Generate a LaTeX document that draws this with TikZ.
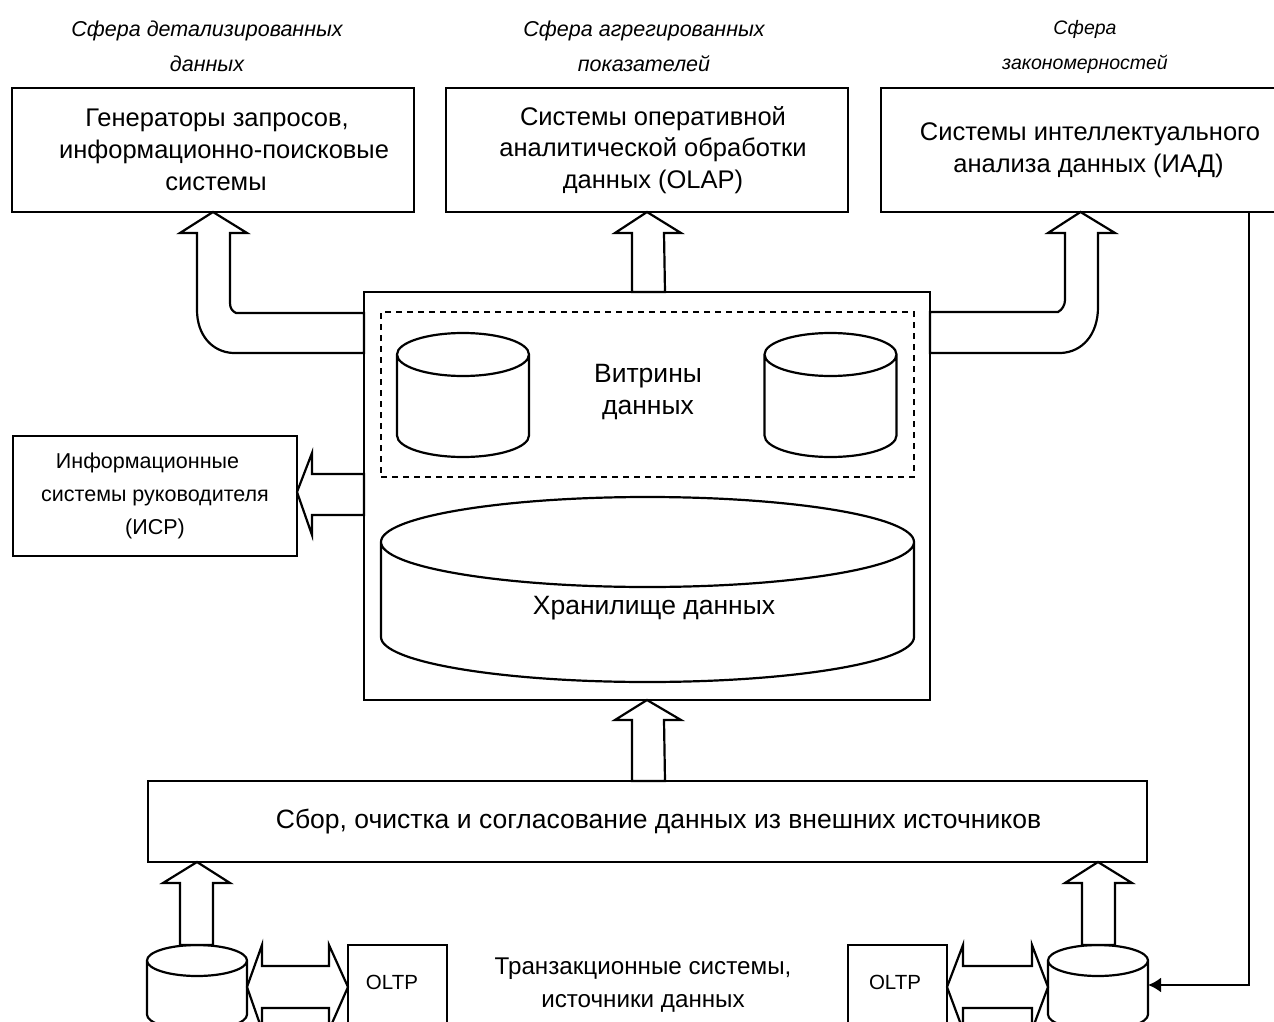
\documentclass[tikz,border=0pt]{standalone}
\usepackage{fontspec}
\setmainfont{Liberation Sans}
\usetikzlibrary{positioning,arrows.meta,calc}
\begin{document}
\begin{tikzpicture}[x=1pt, y=-1pt, line width=2.2pt, every node/.style={outer sep=0pt, inner sep=0pt, align=center},
  sysbox/.style={rectangle, draw, minimum height=124pt, minimum width=402pt, font=\fontsize{25.5pt}{31.8pt}\selectfont},
  sphere/.style={font=\fontsize{21.5pt}{35pt}\selectfont\itshape},
  labeltext/.style={font=\fontsize{26.5pt}{32pt}\selectfont},
  oltpbox/.style={rectangle, draw, minimum width=99pt, minimum height=100pt, anchor=north west},
  oltptext/.style={font=\fontsize{20.5pt}{26pt}\selectfont},
  cylslot/.style={rectangle},
  fat/.style={draw, fill=white, line join=miter}]
\useasboundingbox (0,0) rectangle (1274,1022);
\clip (0,0) rectangle (1274,1022);

% top row
\node[sysbox] (generators) at (213,150) {\hspace*{8pt}Генераторы запросов,\\\hspace*{22pt}информационно-поисковые\\\hspace*{6pt}системы};
\node[sysbox, right=32pt of generators] (olap) {\hspace*{12pt}Системы оперативной\\\hspace*{12pt}аналитической обработки\\\hspace*{12pt}данных (OLAP)};
\node[sysbox, minimum width=399pt, right=33pt of olap] (mining) {\hspace*{19pt}Системы интеллектуального\\\hspace*{16pt}анализа данных (ИАД)};
\node[sphere] (spheredet) at (207,46) {Сфера детализированных\\данных};
\node[sphere] (sphereagg) at (644,46) {Сфера агрегированных\\показателей};
\node[sphere, font=\fontsize{19.5pt}{35pt}\selectfont\itshape] (spherelaw) at (1085,47) {Сфера\\закономерностей};

% store
\node[rectangle, draw, minimum width=566pt, minimum height=408pt] (storebox) at (647,496) {};
\node[rectangle, draw, dash pattern=on 6pt off 5pt, minimum width=533pt, minimum height=165pt] (marts) at (647.5,394.5) {};
\node[cylslot, minimum width=132pt, minimum height=124pt] (martleft) at (463,395) {};
\node[cylslot, minimum width=132pt, minimum height=124pt] (martright) at (830.5,395) {};
\node[cylslot, minimum width=533pt, minimum height=185pt] (storage) at (647.5,589.5) {};

% left box
\node[rectangle, draw, minimum width=284pt, minimum height=120pt, font=\fontsize{21.5pt}{33pt}\selectfont] (isr) at (155,496) {Информационные\hspace*{15pt}\\системы руководителя\hspace*{8pt}\\(ИСР)};

% bottom part
\node[rectangle, draw, minimum width=999pt, minimum height=81pt, labeltext] (collect) at (647.5,821.5) {\hspace*{22pt}Сбор, очистка и согласование данных из внешних источников};
\node[oltpbox] (oltpleft) at (348,945) {};
\node[oltpbox] (oltpright) at (848,945) {};
\node[cylslot, minimum width=100pt, minimum height=85pt, anchor=north] (srcleft) at (197,945) {};
\node[cylslot, minimum width=100pt, minimum height=85pt, anchor=north] (srcright) at (1098,945) {};

\foreach \cylname/\ry in {martleft/21.5,martright/21.5,storage/45,srcleft/15.5,srcright/15.5}
  \draw[fill=white] let \p1=(\cylname.west), \p2=(\cylname.east), \n1={(\x2-\x1)/2} in
    ([yshift=-\ry pt]\cylname.north west) arc[start angle=180, end angle=0, x radius=\n1, y radius=\ry pt]
    --([yshift=\ry pt]\cylname.south east) arc[start angle=0, end angle=-180, x radius=\n1, y radius=\ry pt]--cycle
    ([yshift=-\ry pt]\cylname.north west) arc[start angle=180, end angle=360, x radius=\n1, y radius=\ry pt];

\node[labeltext] (martlabel) at (648,392) {Витрины\\данных};
\node[labeltext] (storagelabel) at (654,608) {Хранилище данных};
\node[oltptext] (oltplefttext) at (392,982) {OLTP};
\node[oltptext] (oltprighttext) at (895,982) {OLTP};
\node[labeltext, font=\fontsize{24.2pt}{33pt}\selectfont] (srclabel) at (643,985) {Транзакционные системы,\\источники данных};

% fat arrows, tip first
\draw[fat] (generators.south)--(247,233)--(230,233)--(230,303) .. controls (230,308) and (232,311) .. (236,313)--(storebox.west |- 0,313)--(storebox.west |- 0,353)--(233,353) .. controls (212,352) and (197,335) .. (197,310)--(197,233)--(180,233)--cycle;
\draw[fat] (olap.south)--++(34,21)--++(-17,0)--(storebox.north -| 665,0)--(storebox.north -| 632,0)--(632,233)--++(-17,0)--cycle;
\draw[fat] (mining.south)--(1048,233)--(1065,233)--(1065,300) .. controls (1065,305) and (1062,310) .. (1058,312)--(storebox.east |- 0,312)--(storebox.east |- 0,353)--(1061,353) .. controls (1082,352) and (1098,335) .. (1098,307)--(1098,233)--(1115,233)--cycle;
\draw[fat] (isr.east |- 0,492)--(312,453)--(312,474)--(storebox.west |- 0,474)--(storebox.west |- 0,515)--(312,515)--(312,535)--cycle;
\draw[fat] (storebox.south)--++(34,20)--++(-17,0)--(collect.north -| 665,0)--(collect.north -| 632,0)--(632,720)--++(-17,0)--cycle;
\draw[fat] (srcleft.north |- collect.south)--++(33,21)--++(-17,0)--(srcleft.north -| 213,0)--(srcleft.north -| 180,0)--(180,883)--++(-17,0)--cycle;
\draw[fat] (srcright.north |- collect.south)--++(34,21)--++(-17,0)--(srcright.north -| 1115,0)--(srcright.north -| 1082,0)--(1082,883)--++(-17,0)--cycle;
\draw[fat] (srcleft.east |- 0,987)--++(15,-42)--++(0,21)--++(67,0)--++(0,-21)--(oltpleft.west |- 0,987)--++(-19,43)--++(0,-22)--++(-67,0)--++(0,22)--cycle;
\draw[fat] (oltpright.east |- 0,987)--++(16,-42)--++(0,21)--++(69,0)--++(0,-21)--(srcright.west |- 0,987)--++(-16,43)--++(0,-22)--++(-69,0)--++(0,22)--cycle;

% feedback
\draw[-{Latex[length=13pt,width=15pt]}] (mining.south -| 1249,0)--(1249,985)--(srcright.east |- 0,985);
\end{tikzpicture}
\end{document}
